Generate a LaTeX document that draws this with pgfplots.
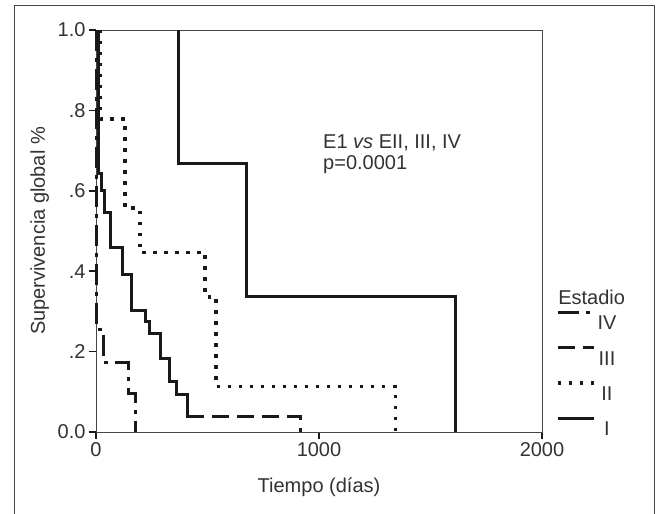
\documentclass[border=0pt]{standalone}
\usepackage{pgfplots}
\pgfplotsset{compat=1.18}
\usepackage{fontspec}
\setmainfont{Liberation Sans}
\definecolor{txt}{RGB}{50,50,50}
\definecolor{crv}{RGB}{25,25,25}
\definecolor{frm}{RGB}{70,70,70}
\begin{document}
\begin{tikzpicture}[x=1pt,y=1pt]
\useasboundingbox (0,0) rectangle (657,514);
\draw[line width=1pt, frm] (14,-2) -- (14,508) -- (654,508) -- (654,-2);
\begin{axis}[
  at={(96pt,82pt)}, anchor=south west,
  scale only axis, width=446pt, height=402pt,
  xmin=0, xmax=2000, ymin=0, ymax=1,
  xtick={0,1000,2000}, xticklabels={0,1000,2000},
  ytick={0,0.2,0.4,0.6,0.8,1.0},
  yticklabels={0.0,.2,.4,.6,.8,1.0},
  tick align=outside, major tick length=7pt,
  xtick pos=bottom, ytick pos=left,
  tick style={line width=1.6pt, crv},
  axis line style={line width=0.9pt, frm},
  font=\fontsize{20}{24}\selectfont,
  tick label style={font=\fontsize{20}{24}\selectfont, text=txt},
  /pgf/number format/assume math mode=true,
  xlabel={Tiempo (días)}, ylabel={Supervivencia global \%},
  label style={text=txt},
  xlabel style={at={(axis description cs:0.5,-0.137)}, anchor=center},
  ylabel style={at={(axis description cs:-0.126,0.5)}, anchor=center, rotate=0},
  legend image code/.code={\path[draw=none,fill=none] (0pt,0pt) rectangle (36pt,25.5pt);
    \draw[#1] (0pt,11pt) -- (36pt,11pt);},
  legend cell align=center,
  legend style={at={(rel axis cs:1.031,0.333)}, anchor=north west, draw=none, fill=none,
    font=\fontsize{20}{24}\selectfont, text=txt, row sep=0pt, inner sep=0pt},
  clip=false,
]
% Stage IV (dash-dot)
\addplot[crv, line width=3pt, dash pattern=on 21pt off 7pt on 4pt off 7pt] coordinates {
 (4,1) (4,0.254) (35,0.254) (35,0.172) (146,0.172) (146,0.097) (176,0.097) (176,0)};
\addlegendentry{IV}
% Stage III (dashed)
\addplot[crv, line width=3pt, dash pattern=on 17pt off 8pt] coordinates {
 (409,0.038) (918,0.038) (918,0)};
\addlegendentry{III}
\addplot[crv, line width=3pt, forget plot] coordinates {
 (10,1) (10,0.644) (25,0.644) (25,0.6) (40,0.6) (40,0.545) (63,0.545) (63,0.458)
 (121,0.458) (121,0.391) (160,0.391) (160,0.303) (224,0.303) (224,0.274) (242,0.274)
 (242,0.245) (287,0.245) (287,0.182) (329,0.182) (329,0.125) (359,0.125) (359,0.094)
 (409,0.094) (409,0.038) (425,0.038)};
% Stage II (dotted)
\addplot[crv, line width=3.5pt, dash pattern=on 3.5pt off 7.5pt] coordinates {
 (20,1) (20,0.778) (130,0.778) (130,0.557) (197,0.557) (197,0.447) (489,0.447)
 (489,0.336) (538,0.336) (538,0.113) (1344,0.113) (1344,0)};
\addlegendentry{II}
% Stage I (solid)
\addplot[crv, line width=3pt] coordinates {
 (368,1) (368,0.669) (676,0.669) (676,0.338) (1614,0.338) (1614,0)};
\addlegendentry{I}
\node[anchor=base west, text=txt, inner sep=0pt] at (axis cs:1018,0.704) {E1 \textit{vs} EII, III, IV};
\node[anchor=base west, text=txt, inner sep=0pt] at (axis cs:1018,0.652) {p=0.0001};
\node[anchor=base west, text=txt, inner sep=0pt] at (rel axis cs:1.036,0.316) {Estadio};
\end{axis}
\end{tikzpicture}
\end{document}
